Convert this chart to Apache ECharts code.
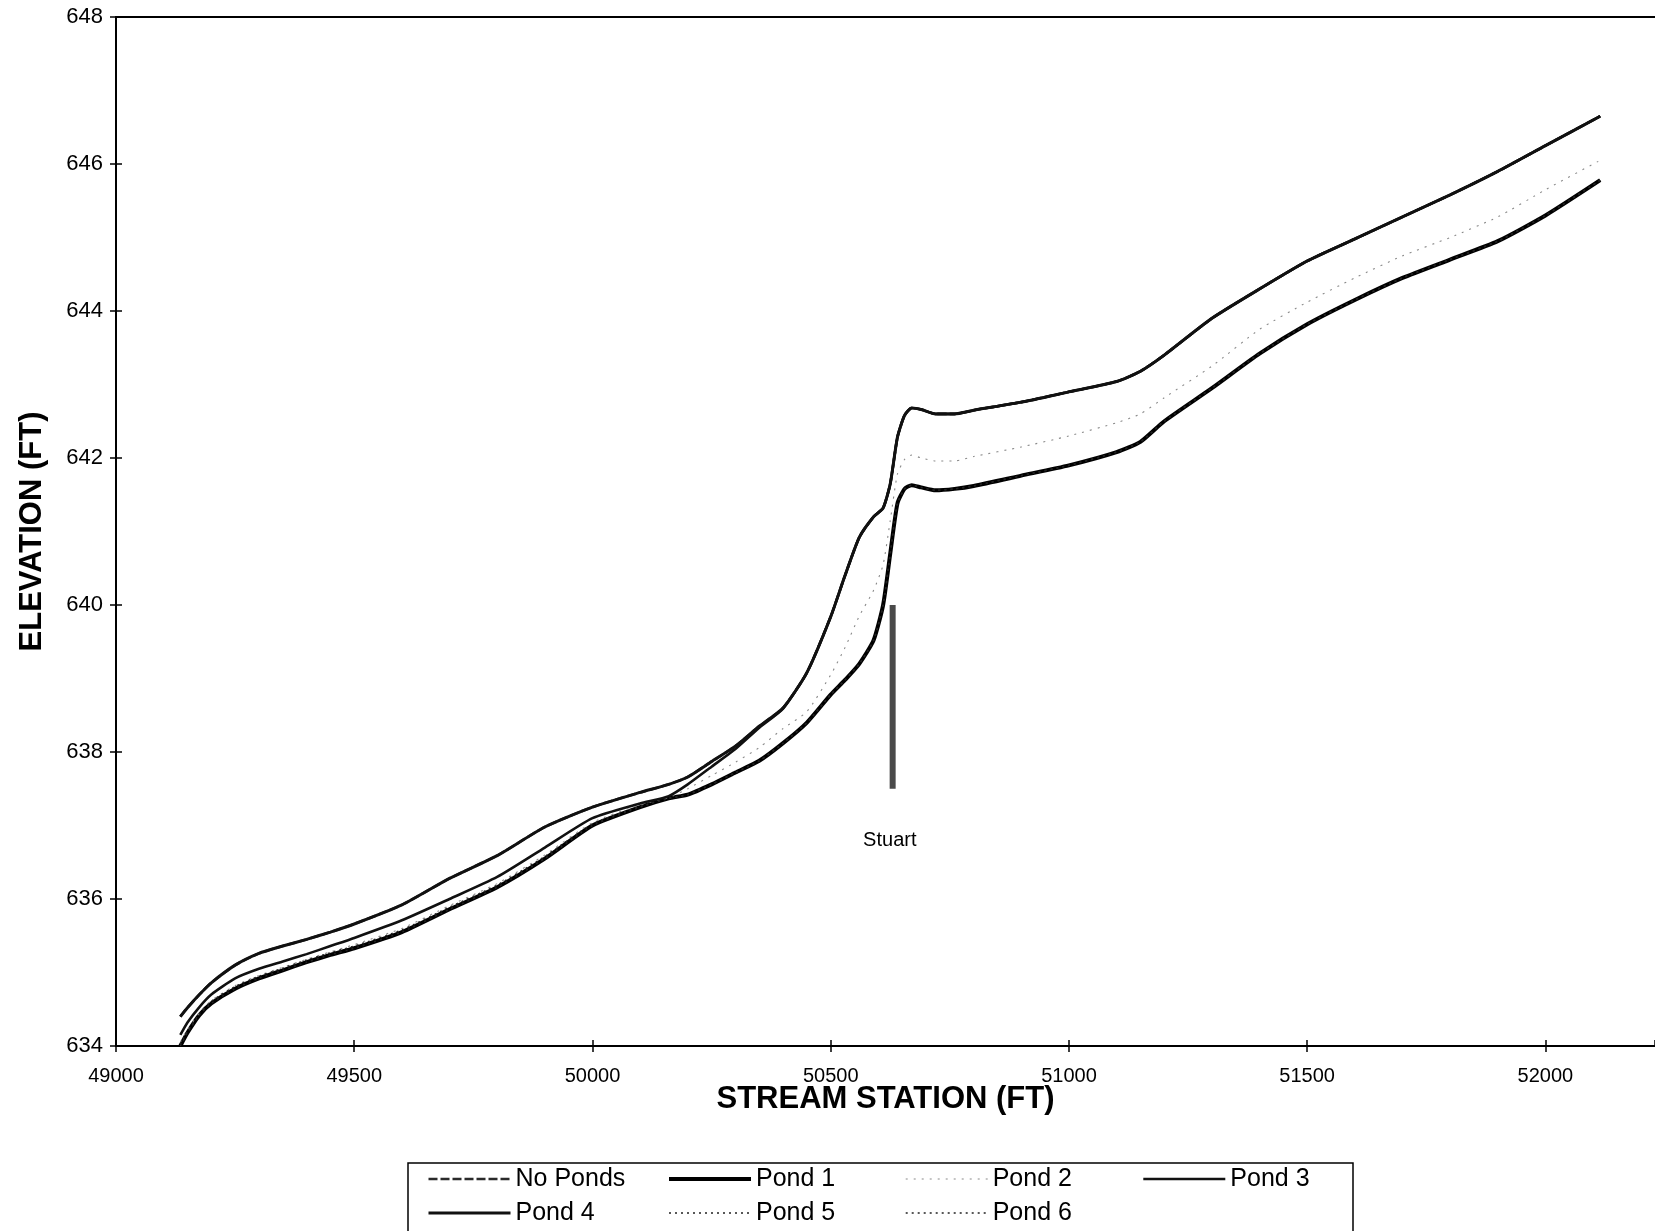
<!DOCTYPE html>
<html>
<head>
<meta charset="utf-8">
<title>Water Surface Profiles</title>
<script src="https://cdn.jsdelivr.net/npm/echarts@6/dist/echarts.min.js"></script>
<style>
  html, body { margin: 0; padding: 0; background: #fff; }
  #chart { width: 1655px; height: 1231px; }
</style>
</head>
<body>
<div id="chart"></div>
<script>
// Stream stations (ft) shared by every profile
const stations = [
  49135, 49150, 49175, 49200, 49250, 49300, 49350, 49400, 49450, 49500,
  49600, 49700, 49800, 49900, 50000, 50100, 50160, 50200, 50250, 50300,
  50350, 50400, 50450, 50500, 50530, 50560, 50590, 50610, 50625, 50640,
  50655, 50670, 50690, 50720, 50760, 50800, 50900, 51000, 51100, 51150,
  51200, 51300, 51400, 51500, 51600, 51700, 51800, 51900, 52000, 52115
];

// Water surface elevations (ft) for each scenario
const noPonds = [
  634.40, 634.52, 634.70, 634.86, 635.10, 635.26, 635.36, 635.45, 635.55, 635.66,
  635.92, 636.28, 636.59, 636.98, 637.25, 637.45, 637.56, 637.66, 637.87, 638.08,
  638.35, 638.60, 639.08, 639.84, 640.40, 640.92, 641.20, 641.32, 641.65, 642.28,
  642.58, 642.68, 642.66, 642.60, 642.60, 642.65, 642.76, 642.90, 643.04, 643.18,
  643.40, 643.90, 644.30, 644.68, 644.98, 645.28, 645.58, 645.90, 646.25, 646.65
];
const pond1 = [
  634.00, 634.18, 634.42, 634.58, 634.78, 634.92, 635.03, 635.14, 635.24, 635.33,
  635.55, 635.86, 636.16, 636.55, 637.00, 637.25, 637.37, 637.42, 637.56, 637.72,
  637.88, 638.12, 638.40, 638.78, 638.98, 639.20, 639.52, 640.00, 640.70, 641.38,
  641.58, 641.63, 641.60, 641.56, 641.58, 641.62, 641.76, 641.90, 642.08, 642.22,
  642.50, 642.95, 643.42, 643.82, 644.15, 644.45, 644.70, 644.95, 645.30, 645.78
];
const pond2 = [
  634.05, 634.22, 634.45, 634.62, 634.82, 634.96, 635.07, 635.18, 635.28, 635.38,
  635.60, 635.91, 636.21, 636.60, 637.04, 637.28, 637.38, 637.50, 637.68, 637.86,
  638.06, 638.32, 638.55, 639.05, 639.42, 639.85, 640.20, 640.55, 641.15, 641.78,
  641.98, 642.04, 642.00, 641.96, 641.96, 642.02, 642.15, 642.30, 642.48, 642.60,
  642.82, 643.25, 643.75, 644.12, 644.45, 644.75, 645.00, 645.28, 645.65, 646.05
];
const pond3 = [
  634.15, 634.32, 634.53, 634.70, 634.92, 635.05, 635.15, 635.25, 635.36, 635.47,
  635.71, 636.00, 636.30, 636.70, 637.10, 637.30, 637.40, 637.56, 637.80, 638.04,
  638.33, 638.59, 639.08, 639.84, 640.40, 640.92, 641.20, 641.32, 641.65, 642.28,
  642.58, 642.68, 642.66, 642.60, 642.60, 642.65, 642.76, 642.90, 643.04, 643.18,
  643.40, 643.90, 644.30, 644.68, 644.98, 645.28, 645.58, 645.90, 646.25, 646.65
];
const pond4 = [
  634.40, 634.52, 634.70, 634.86, 635.10, 635.26, 635.36, 635.45, 635.55, 635.66,
  635.92, 636.28, 636.59, 636.98, 637.25, 637.45, 637.56, 637.66, 637.87, 638.08,
  638.35, 638.60, 639.08, 639.84, 640.40, 640.92, 641.20, 641.32, 641.65, 642.28,
  642.58, 642.68, 642.66, 642.60, 642.60, 642.65, 642.76, 642.90, 643.04, 643.18,
  643.40, 643.90, 644.30, 644.68, 644.98, 645.28, 645.58, 645.90, 646.25, 646.65
];
const pond5 = [
  634.02, 634.20, 634.44, 634.61, 634.81, 634.95, 635.06, 635.17, 635.27, 635.36,
  635.58, 635.89, 636.19, 636.58, 637.02, 637.26, 637.37, 637.42, 637.56, 637.72,
  637.88, 638.12, 638.40, 638.78, 638.98, 639.20, 639.52, 640.00, 640.70, 641.38,
  641.58, 641.63, 641.60, 641.56, 641.58, 641.62, 641.76, 641.90, 642.08, 642.22,
  642.50, 642.95, 643.42, 643.82, 644.15, 644.45, 644.70, 644.95, 645.30, 645.78
];
const pond6 = [
  634.00, 634.18, 634.42, 634.58, 634.78, 634.92, 635.03, 635.14, 635.24, 635.33,
  635.55, 635.86, 636.16, 636.55, 637.00, 637.25, 637.37, 637.42, 637.56, 637.72,
  637.88, 638.12, 638.40, 638.78, 638.98, 639.20, 639.52, 640.00, 640.70, 641.38,
  641.58, 641.63, 641.60, 641.56, 641.58, 641.62, 641.76, 641.90, 642.08, 642.22,
  642.50, 642.95, 643.42, 643.82, 644.15, 644.45, 644.70, 644.95, 645.30, 645.78
];

// Stuart structure marker: station, bottom/top elevation, label anchor
const stuartStation = 50630;
const stuartElev = [637.5, 640.0];
const stuartLabelAt = [50624, 636.8];
const stuartName = 'Stuart';

// Axis ranges (the station axis runs past the right edge of the page)
const xRange = { min: 49000, max: 52230, step: 500 };
const yRange = { min: 634, max: 648, step: 2 };

const FONT = '"Liberation Sans", Arial, sans-serif';

const zip = (ys) => stations.map((x, i) => [x, ys[i]]);

const profiles = [
  { name: 'No Ponds', values: noPonds, color: '#2a2a2a', width: 2.6, type: [9, 3] },
  { name: 'Pond 1',   values: pond1,   color: '#000000', width: 4.0, type: 'solid' },
  { name: 'Pond 2',   values: pond2,   color: '#8a8a8a', width: 1.1, type: [2, 6] },
  { name: 'Pond 3',   values: pond3,   color: '#111111', width: 2.6, type: 'solid' },
  { name: 'Pond 4',   values: pond4,   color: '#111111', width: 3.0, type: 'solid' },
  { name: 'Pond 5',   values: pond5,   color: '#222222', width: 1.4, type: [2, 4] },
  { name: 'Pond 6',   values: pond6,   color: '#222222', width: 1.4, type: [2, 4] }
];

const lineSeries = profiles.map(p => ({
  name: p.name,
  type: 'line',
  data: zip(p.values),
  symbol: 'none',
  smooth: 0.2,
  lineStyle: { color: p.color, width: p.width, type: p.type },
  itemStyle: { color: p.color },
  silent: true
}));

const baseXAxis = {
  type: 'value', min: xRange.min, max: xRange.max, interval: xRange.step,
  splitLine: { show: false }
};
const baseYAxis = {
  type: 'value', min: yRange.min, max: yRange.max, interval: yRange.step,
  splitLine: { show: false }
};
const tickStyle = { color: '#000', width: 1.5 };
const plain = (v) => String(v);

const legendCommon = {
  orient: 'vertical',
  top: 1164,
  padding: 0,
  itemWidth: 82,
  itemHeight: 14,
  itemGap: 4,
  selectedMode: false,
  lineStyle: { width: 'inherit' },
  itemStyle: { color: 'rgba(0,0,0,0)', borderColor: 'rgba(0,0,0,0)', borderWidth: 0, opacity: 0 },
  textStyle: { fontFamily: FONT, fontSize: 25, lineHeight: 30, color: '#000' }
};

const option = {
  animation: false,
  backgroundColor: '#ffffff',
  grid: { left: 116, top: 17, right: 0, height: 1029, show: false },
  xAxis: [
    Object.assign({}, baseXAxis, {
      position: 'bottom',
      name: 'STREAM STATION (FT)',
      nameLocation: 'middle',
      nameGap: 38,
      nameMoveOverlap: false,
      nameTextStyle: { fontFamily: FONT, fontWeight: 'bold', fontSize: 31, color: '#000' },
      axisLine: { show: true, onZero: false, lineStyle: { color: '#000', width: 2 } },
      axisTick: { show: true, length: 6, lineStyle: tickStyle },
      axisLabel: { fontFamily: FONT, fontSize: 20, color: '#000', margin: 20, showMaxLabel: false, formatter: plain }
    }),
    Object.assign({}, baseXAxis, {
      position: 'bottom',
      axisLine: { show: false },
      axisTick: { show: true, inside: true, length: 6, lineStyle: tickStyle },
      axisLabel: { show: false }
    }),
    Object.assign({}, baseXAxis, {
      position: 'top',
      axisLine: { show: true, onZero: false, lineStyle: { color: '#000', width: 2 } },
      axisTick: { show: false },
      axisLabel: { show: false }
    })
  ],
  yAxis: [
    Object.assign({}, baseYAxis, {
      position: 'left',
      name: 'ELEVATION (FT)',
      nameLocation: 'middle',
      nameGap: 68,
      nameRotate: 90,
      nameMoveOverlap: false,
      nameTextStyle: { fontFamily: FONT, fontWeight: 'bold', fontSize: 31, color: '#000' },
      axisLine: { show: true, onZero: false, lineStyle: { color: '#000', width: 2 } },
      axisTick: { show: true, length: 6, lineStyle: tickStyle },
      axisLabel: { fontFamily: FONT, fontSize: 22, color: '#000', margin: 13, formatter: plain }
    }),
    Object.assign({}, baseYAxis, {
      position: 'left',
      axisLine: { show: false },
      axisTick: { show: true, inside: true, length: 6, lineStyle: tickStyle },
      axisLabel: { show: false }
    })
  ],
  legend: [
    Object.assign({}, legendCommon, { left: 427, data: ['No Ponds', 'Pond 4'] }),
    Object.assign({}, legendCommon, { left: 667, data: ['Pond 1', 'Pond 5'] }),
    Object.assign({}, legendCommon, { left: 905, data: ['Pond 2', 'Pond 6'] }),
    Object.assign({}, legendCommon, { left: 1142, data: ['Pond 3'] })
  ],
  graphic: [{
    type: 'rect',
    shape: { x: 408, y: 1163, width: 945, height: 90 },
    style: { fill: 'none', stroke: '#000', lineWidth: 1.5 },
    silent: true
  }],
  series: lineSeries.concat([
    {
      name: 'Stuart marker',
      type: 'line',
      data: [[stuartStation, stuartElev[0]], [stuartStation, stuartElev[1]]],
      symbol: 'none',
      lineStyle: { color: '#4a4a4a', width: 6, cap: 'butt' },
      silent: true,
      z: 1
    },
    {
      name: 'Stuart label',
      type: 'scatter',
      data: [stuartLabelAt],
      symbolSize: 0,
      itemStyle: { color: 'transparent' },
      label: {
        show: true, position: [0, 0], align: 'center', verticalAlign: 'middle',
        formatter: stuartName, fontFamily: FONT, fontSize: 20, color: '#000', opacity: 1
      },
      silent: true
    }
  ])
};

const chart = echarts.init(document.getElementById('chart'), null, { renderer: 'canvas' });
chart.setOption(option);
</script>
</body>
</html>
